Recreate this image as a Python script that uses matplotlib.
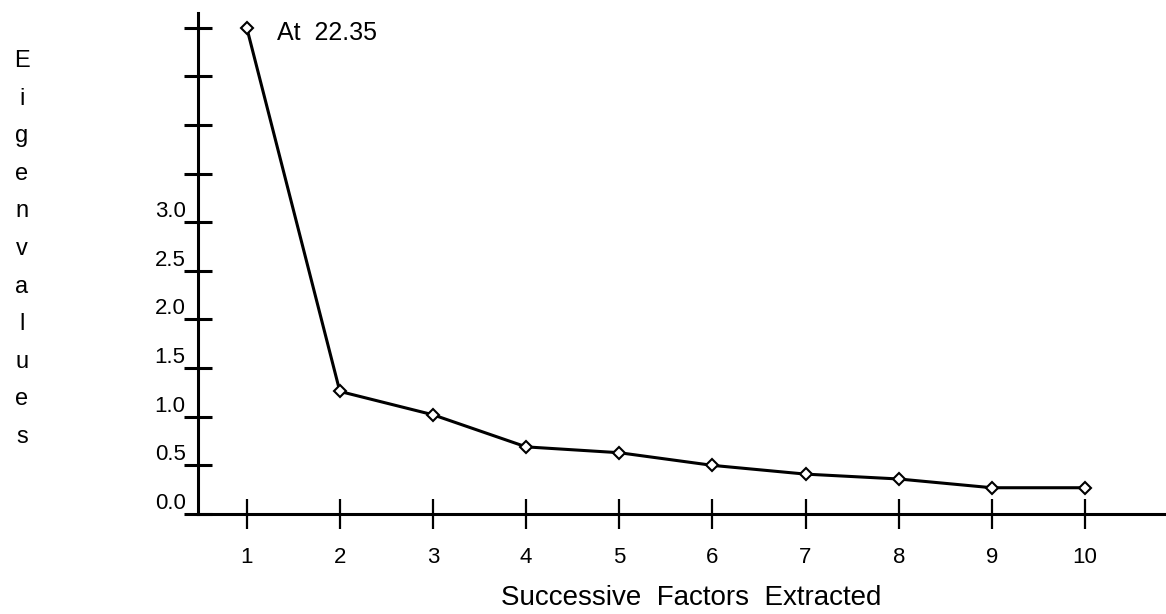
import numpy as np
import matplotlib.pyplot as plt

plt.rcParams['font.family'] = ['Liberation Sans', 'DejaVu Sans']

# scree plot data
factors = [1, 2, 3, 4, 5, 6, 7, 8, 9, 10]
eigenvalues = [22.35, 1.26, 1.02, 0.69, 0.63, 0.50, 0.41, 0.36, 0.27, 0.27]
y_ticks = [0.0, 0.5, 1.0, 1.5, 2.0, 2.5, 3.0, 3.5, 4.0, 4.5, 5.0]
y_ticklabels = ['0.0', '0.5', '1.0', '1.5', '2.0', '2.5', '3.0', '', '', '', '']
axis_cap = 5.0  # first value is off scale, drawn at the top

fig = plt.figure(figsize=(11.66, 6.14), dpi=100)
W, H = 1166, 614
ax = fig.add_axes([198 / W, 100 / H, (W - 198) / W, (514 - 13) / H])

plot_vals = np.minimum(eigenvalues, axis_cap)
ax.plot(factors, plot_vals, color='black', lw=2.2, marker='D', ms=6,
        mfc='white', mec='black', mew=1.5, zorder=5, clip_on=False)

ax.annotate('At  %.2f' % eigenvalues[0], xy=(factors[0], plot_vals[0]),
            xytext=(22, -4), textcoords='offset points', fontsize=18,
            va='center', ha='left')

ax.set_xlim(0.477, 10.87)
ax.set_ylim(0, 5.15)

for s in ['top', 'right']:
    ax.spines[s].set_visible(False)
ax.spines['left'].set_linewidth(2.2)
ax.spines['bottom'].set_linewidth(2.2)

ax.set_xticks(factors)
ax.set_xticklabels([str(f) for f in factors], fontsize=16)
ax.tick_params(axis='x', direction='inout', length=21, width=1.6, pad=13)

ax.set_yticks(y_ticks)
ax.set_yticklabels(y_ticklabels, fontsize=16)
ax.tick_params(axis='y', direction='inout', length=20, width=2.2, pad=-1)
for lab in ax.get_yticklabels():
    lab.set_verticalalignment('bottom')

ax.set_xlabel('Successive  Factors  Extracted', fontsize=20)
ax.xaxis.set_label_coords((691 - 198) / (W - 198), -(598 - 514) / 501)
ax.xaxis.label.set_verticalalignment('center')

# vertical stacked axis title
for i, ch in enumerate('Eigenvalues'):
    fig.text(22 / W, 1 - (61 + i * 37.6) / H, ch, fontsize=17,
             ha='center', va='center')

fig.savefig('out.png', dpi=100)
